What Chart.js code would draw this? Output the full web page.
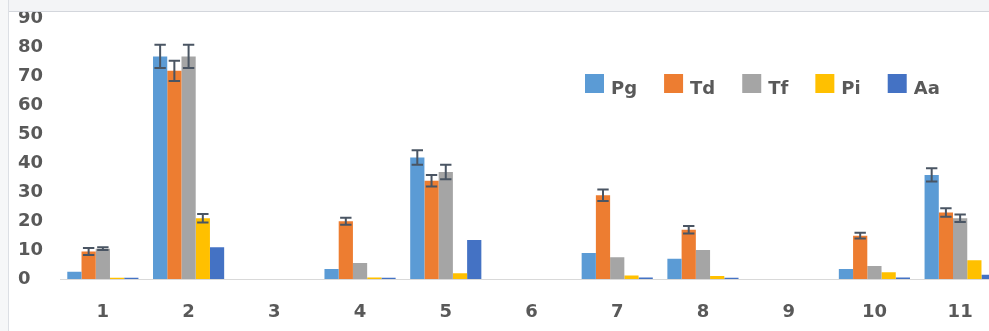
<!DOCTYPE html>
<html>
<head>
<meta charset="utf-8">
<script src="https://cdn.jsdelivr.net/npm/chart.js@4.4.1/dist/chart.umd.min.js"></script>
<style>
  html, body { margin: 0; padding: 0; overflow: hidden; background: #ffffff; }
  #wrap { position: absolute; left: 0; top: 0; width: 1010px; height: 331px; }
  #topStrip { position: absolute; left: 0; top: 0; width: 989px; height: 11px; background: #f3f4f6; border-bottom: 1px solid #d3d6dc; z-index: 2; }
  #leftStrip { position: absolute; left: 0; top: 0; width: 8px; height: 331px; background: #f6f7f8; border-right: 1px solid #dcdfe4; z-index: 2; }
</style>
</head>
<body>
<div id="wrap"><canvas id="chart"></canvas></div>
<div id="topStrip"></div>
<div id="leftStrip"></div>
<script>
// Data
const categories = ['1', '2', '3', '4', '5', '6', '7', '8', '9', '10', '11'];
const pg = [2.5, 77, 0, 3.5, 42, 0, 9, 7, 0, 3.5, 36];
const td = [9.5, 72, 0, 20, 34, 0, 29, 17, 0, 15, 23];
const tf = [10.5, 77, 0, 5.5, 37, 0, 7.5, 10, 0, 4.5, 21];
const pi = [0.4, 21, 0, 0.5, 2, 0, 1.2, 1, 0, 2.3, 6.5];
const aa = [0.4, 11, 0, 0.4, 13.5, 0, 0.5, 0.4, 0, 0.5, 1.5];

// Error bar half-widths
const pgErr = [0, 4, 0, 0, 2.5, 0, 0, 0, 0, 0, 2.3];
const tdErr = [1.2, 3.5, 0, 1.2, 2, 0, 2, 1.3, 0, 1, 1.5];
const tfErr = [0.5, 4, 0, 0, 2.5, 0, 0, 0, 0, 0, 1.3];
const piErr = [0, 1.5, 0, 0, 0, 0, 0, 0, 0, 0, 0];
const aaErr = [0, 0, 0, 0, 0, 0, 0, 0, 0, 0, 0];

const yTicks = [0, 10, 20, 30, 40, 50, 60, 70, 80, 90];

const tickFont = { family: 'DejaVu Sans', size: 18, weight: 'bold' };
const textColor = '#595959';

// Draw error bars on top of the bars
const errorBars = {
  id: 'errorBars',
  afterDatasetsDraw(chart) {
    const ctx = chart.ctx;
    const yScale = chart.scales.y;
    ctx.save();
    ctx.strokeStyle = '#4a5563';
    ctx.lineWidth = 2;
    chart.data.datasets.forEach((ds, di) => {
      const meta = chart.getDatasetMeta(di);
      ds.errors.forEach((e, i) => {
        if (!e) return;
        const bar = meta.data[i];
        const v = ds.data[i];
        const yTop = yScale.getPixelForValue(v + e);
        const yBot = yScale.getPixelForValue(v - e);
        const half = bar.width * 0.4;
        ctx.beginPath();
        ctx.moveTo(bar.x, yTop);
        ctx.lineTo(bar.x, yBot);
        ctx.moveTo(bar.x - half, yTop);
        ctx.lineTo(bar.x + half, yTop);
        ctx.moveTo(bar.x - half, yBot);
        ctx.lineTo(bar.x + half, yBot);
        ctx.stroke();
      });
    });
    ctx.restore();
  }
};

// Legend placed inside the plot, upper right
const floatLegend = {
  id: 'floatLegend',
  afterDraw(chart) {
    const ctx = chart.ctx;
    ctx.save();
    ctx.font = 'bold 18px "DejaVu Sans"';
    ctx.textBaseline = 'middle';
    ctx.textAlign = 'left';
    let x = 585;
    const y = 74;
    const box = 19;
    chart.data.datasets.forEach((ds) => {
      ctx.fillStyle = ds.backgroundColor;
      ctx.fillRect(x, y, box, box);
      ctx.fillStyle = textColor;
      ctx.fillText(ds.label, x + box + 7, y + box / 2 + 6);
      x += box + 7 + ctx.measureText(ds.label).width + 27;
    });
    ctx.restore();
  }
};

new Chart(document.getElementById('chart'), {
  type: 'bar',
  data: {
    labels: categories,
    datasets: [
      { label: 'Pg', data: pg, errors: pgErr, backgroundColor: '#5b9bd5' },
      { label: 'Td', data: td, errors: tdErr, backgroundColor: '#ed7d31' },
      { label: 'Tf', data: tf, errors: tfErr, backgroundColor: '#a5a5a5' },
      { label: 'Pi', data: pi, errors: piErr, backgroundColor: '#ffc000' },
      { label: 'Aa', data: aa, errors: aaErr, backgroundColor: '#4472c4' }
    ]
  },
  options: {
    responsive: true,
    maintainAspectRatio: false,
    animation: false,
    layout: { padding: { left: 18, top: 17, right: 7, bottom: 10 } },
    datasets: { bar: { barPercentage: 1, categoryPercentage: 0.83 } },
    plugins: {
      legend: { display: false },
      tooltip: { enabled: false }
    },
    scales: {
      x: {
        afterFit(scale) { scale.height = 42; },
        grid: { display: false, drawTicks: false },
        border: { display: true, color: '#d9d9d9', width: 1 },
        ticks: { color: textColor, font: tickFont, padding: 23, maxRotation: 0 }
      },
      y: {
        min: 0,
        max: 90,
        afterBuildTicks(scale) { scale.ticks = yTicks.map(v => ({ value: v })); },
        afterFit(scale) { scale.width = 42; },
        grid: { display: false, drawTicks: false },
        border: { display: false },
        ticks: { color: textColor, font: tickFont, crossAlign: 'far', padding: 8 }
      }
    }
  },
  plugins: [errorBars, floatLegend]
});
</script>
</body>
</html>
